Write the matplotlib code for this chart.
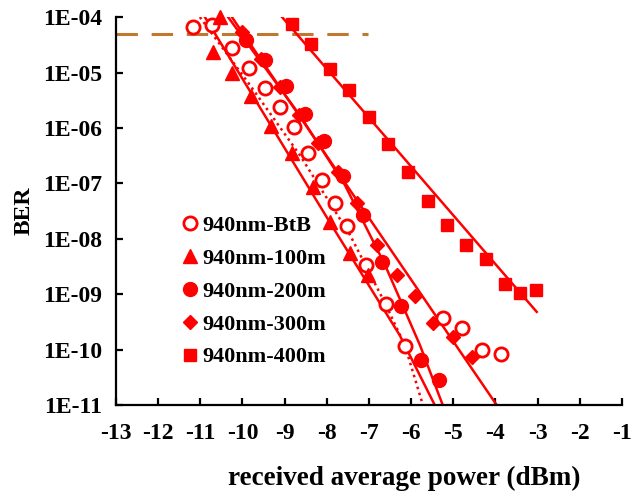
import matplotlib
matplotlib.use("Agg")
import matplotlib.pyplot as plt
from matplotlib.ticker import FixedLocator, NullLocator

# BER (log10) vs received average power (dBm)
btb_x = [-11.17, -10.72, -10.25, -9.85, -9.47, -9.11, -8.78, -8.45, -8.11, -7.81, -7.52, -7.07, -6.60, -6.15,
         -5.25, -4.79, -4.32, -3.87]
btb_y = [-4.18, -4.14, -4.56, -4.92, -5.28, -5.62, -5.98, -6.45, -6.94, -7.36, -7.77, -8.47, -9.18, -9.94,
         -9.43, -9.61, -10.01, -10.08]

m100_x = [-10.53, -10.70, -10.25, -9.80, -9.32, -8.83, -8.33, -7.93, -7.45, -7.02]
m100_y = [-4.00, -4.63, -5.01, -5.43, -5.97, -6.45, -7.07, -7.70, -8.26, -8.65]

m200_x = [-9.92, -9.47, -8.97, -8.52, -8.07, -7.62, -7.14, -6.69, -6.24, -5.77, -5.34]
m200_y = [-4.41, -4.78, -5.24, -5.75, -6.24, -6.87, -7.57, -8.42, -9.21, -10.19, -10.55]

m300_x = [-10.01, -9.56, -9.11, -8.66, -8.21, -7.74, -7.29, -6.81, -6.34, -5.91, -5.48, -5.01, -4.56]
m300_y = [-4.27, -4.76, -5.26, -5.77, -6.27, -6.80, -7.36, -8.11, -8.65, -9.03, -9.52, -9.77, -10.13]

m400_x = [-8.83, -8.38, -7.93, -7.47, -7.00, -6.55, -6.08, -5.60, -5.15, -4.70, -4.23, -3.78, -3.42, -3.04]
m400_y = [-4.13, -4.49, -4.94, -5.32, -5.80, -6.29, -6.80, -7.32, -7.75, -8.11, -8.36, -8.82, -8.98, -8.93]

# fitted curves (vertices)
fit_btb_x = [-11.01, -9.82, -8.64, -7.45, -6.62, -6.15, -5.72]
fit_btb_y = [-4.0, -5.23, -6.49, -7.93, -9.16, -9.92, -11.0]
fit100_x = [-10.89, -7.93, -6.27, -5.44]
fit100_y = [-4.0, -7.70, -9.74, -11.0]
fit200_x = [-10.34, -8.64, -7.57, -6.62, -5.79, -5.25]
fit200_y = [-4.0, -5.77, -7.03, -8.47, -9.92, -11.0]
fit300_x = [-10.25, -3.97]
fit300_y = [-4.0, -11.0]
fit400_x = [-9.06, -3.02]
fit400_y = [-4.0, -9.32]

fec_x = [-13, -7.02]
fec_level = 5e-5

labels = ["940nm-BtB", "940nm-100m", "940nm-200m", "940nm-300m", "940nm-400m"]
y_ticks = [-4, -5, -6, -7, -8, -9, -10, -11]
x_ticks = list(range(-13, 0))

red = "#FF0000"
plt.rcParams["font.family"] = ["Liberation Serif", "DejaVu Serif"]
plt.rcParams["font.weight"] = "bold"


def p10(vals):
    return [10 ** v for v in vals]


fig = plt.figure(figsize=(6.32, 4.96), dpi=100)
ax = fig.add_axes([0.1835, 0.1835, 0.8005, 0.782])

ax.plot(fec_x, [fec_level] * 2, color="#C0782F", lw=2.2, dashes=(7, 4.5))

ax.plot(fit_btb_x, p10(fit_btb_y), color=red, lw=1.8, ls=(0, (1, 1.5)))
ax.plot(fit100_x, p10(fit100_y), color=red, lw=1.8)
ax.plot(fit200_x, p10(fit200_y), color=red, lw=1.8)
ax.plot(fit300_x, p10(fit300_y), color=red, lw=1.8)
ax.plot(fit400_x, p10(fit400_y), color=red, lw=1.8)

mk = dict(ls="none", clip_on=False)
ax.plot(btb_x, p10(btb_y), marker="o", ms=9.5, mfc="white", mec=red, mew=2, label=labels[0], **mk)
ax.plot(m100_x, p10(m100_y), marker="^", ms=10, color=red, label=labels[1], **mk)
ax.plot(m200_x, p10(m200_y), marker="o", ms=10, color=red, label=labels[2], **mk)
ax.plot(m300_x, p10(m300_y), marker="D", ms=7, color=red, label=labels[3], **mk)
ax.plot(m400_x, p10(m400_y), marker="s", ms=8.5, color=red, label=labels[4], **mk)

ax.set_yscale("log")
ax.set_xlim(-13, -1)
ax.set_ylim(1e-11, 1e-4)
ax.yaxis.set_major_locator(FixedLocator([10.0 ** t for t in y_ticks]))
ax.yaxis.set_minor_locator(NullLocator())
ax.set_yticklabels(["1E-%02d" % -t for t in y_ticks])
ax.set_xticks(x_ticks)
ax.set_xticklabels([str(t) for t in x_ticks])

for s in ["top", "right"]:
    ax.spines[s].set_visible(False)
for s in ["left", "bottom"]:
    ax.spines[s].set_linewidth(1.6)
ax.tick_params(direction="in", length=5, width=1.6, labelsize=17, pad=10)
ax.tick_params(axis="x", pad=13)

ax.set_xlabel("received average power (dBm)", fontsize=19.5, fontweight="bold")
ax.xaxis.set_label_coords(0.569, -0.158)
ax.set_ylabel("BER", fontsize=17, fontweight="bold", labelpad=6)

ax.legend(loc="upper left", bbox_to_anchor=(0.134, 0.488), frameon=False, fontsize=16,
          handlelength=0.6, handletextpad=0.25, labelspacing=0.55, borderpad=0, borderaxespad=0)

fig.savefig("out.png", dpi=100)
